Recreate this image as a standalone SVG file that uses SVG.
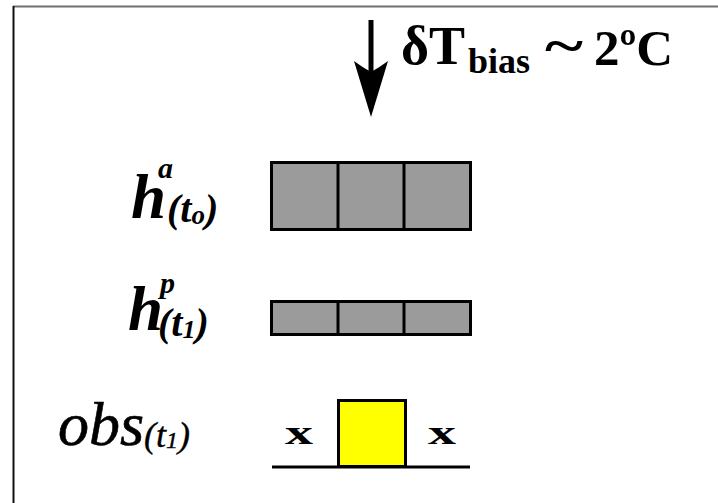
<svg xmlns="http://www.w3.org/2000/svg" width="718" height="503" viewBox="0 0 718 503">
<style>
.cell{fill:#9b9b9b;stroke:#000;stroke-width:3}
.div{stroke:#000;stroke-width:3}
.lab{font-family:"Liberation Serif",serif;font-style:italic;fill:#000}
.bold{font-family:"Liberation Serif",serif;font-weight:bold;fill:#000}
</style>
<rect width="718" height="503" fill="#fff"/>
<g id="frame">
<line x1="13" y1="6.5" x2="718" y2="6.5" stroke="#707070" stroke-width="2"/>
<line x1="13.5" y1="6" x2="13.5" y2="503" stroke="#111" stroke-width="2"/>
</g>
<g id="connectors">
<line x1="371" y1="20" x2="371" y2="72" stroke="#000" stroke-width="5"/>
<path d="M371,72 Q362,67 354,61 L371,117 L388,61 Q380,67 371,72 Z" fill="#000"/>
</g>
<g id="bias-label">
<text class="bold" y="64" font-size="54"><tspan x="401">δT</tspan><tspan x="468" y="73" font-size="36">bias</tspan></text>
<text class="bold" x="545" y="64" font-size="54" textLength="38" lengthAdjust="spacingAndGlyphs">~</text>
<text class="bold" x="594" y="65" font-size="51">2ºC</text>
</g>
<g id="ha">
<text class="lab" font-weight="bold" x="131" y="218" font-size="63">h</text>
<text class="lab" font-weight="bold" x="158" y="178" font-size="30">a</text>
<text class="lab" font-weight="bold" x="167" y="222" font-size="40">(t<tspan font-size="27" dy="2">o</tspan><tspan dy="-2">)</tspan></text>
<rect class="cell" x="271.5" y="162.5" width="199" height="67"/>
<line class="div" x1="338" y1="162.5" x2="338" y2="229.5"/>
<line class="div" x1="404" y1="162.5" x2="404" y2="229.5"/>
</g>
<g id="hp">
<text class="lab" font-weight="bold" x="128" y="330" font-size="63">h</text>
<text class="lab" font-weight="bold" x="160" y="293" font-size="30">p</text>
<text class="lab" font-weight="bold" x="158" y="336" font-size="40">(t<tspan font-size="26" dy="2">1</tspan><tspan dy="-2">)</tspan></text>
<rect class="cell" x="271.5" y="301.5" width="199" height="33"/>
<line class="div" x1="338" y1="301.5" x2="338" y2="334.5"/>
<line class="div" x1="404" y1="301.5" x2="404" y2="334.5"/>
</g>
<g id="obs">
<text class="lab" x="58" y="445" font-size="62" stroke="#000" stroke-width="0.6">obs</text>
<text class="lab" x="144" y="447" font-size="36" stroke="#000" stroke-width="0.4">(t<tspan font-size="24" dy="1">1</tspan><tspan dy="-1">)</tspan></text>
<line x1="272" y1="467" x2="470" y2="467" stroke="#000" stroke-width="3"/>
<rect x="338.5" y="400.5" width="67" height="66" fill="#ffff00" stroke="#000" stroke-width="3"/>
<text class="bold" x="285" y="444" font-size="34" textLength="28" lengthAdjust="spacingAndGlyphs">x</text>
<text class="bold" x="428" y="444" font-size="34" textLength="28" lengthAdjust="spacingAndGlyphs">x</text>
</g>
</svg>
